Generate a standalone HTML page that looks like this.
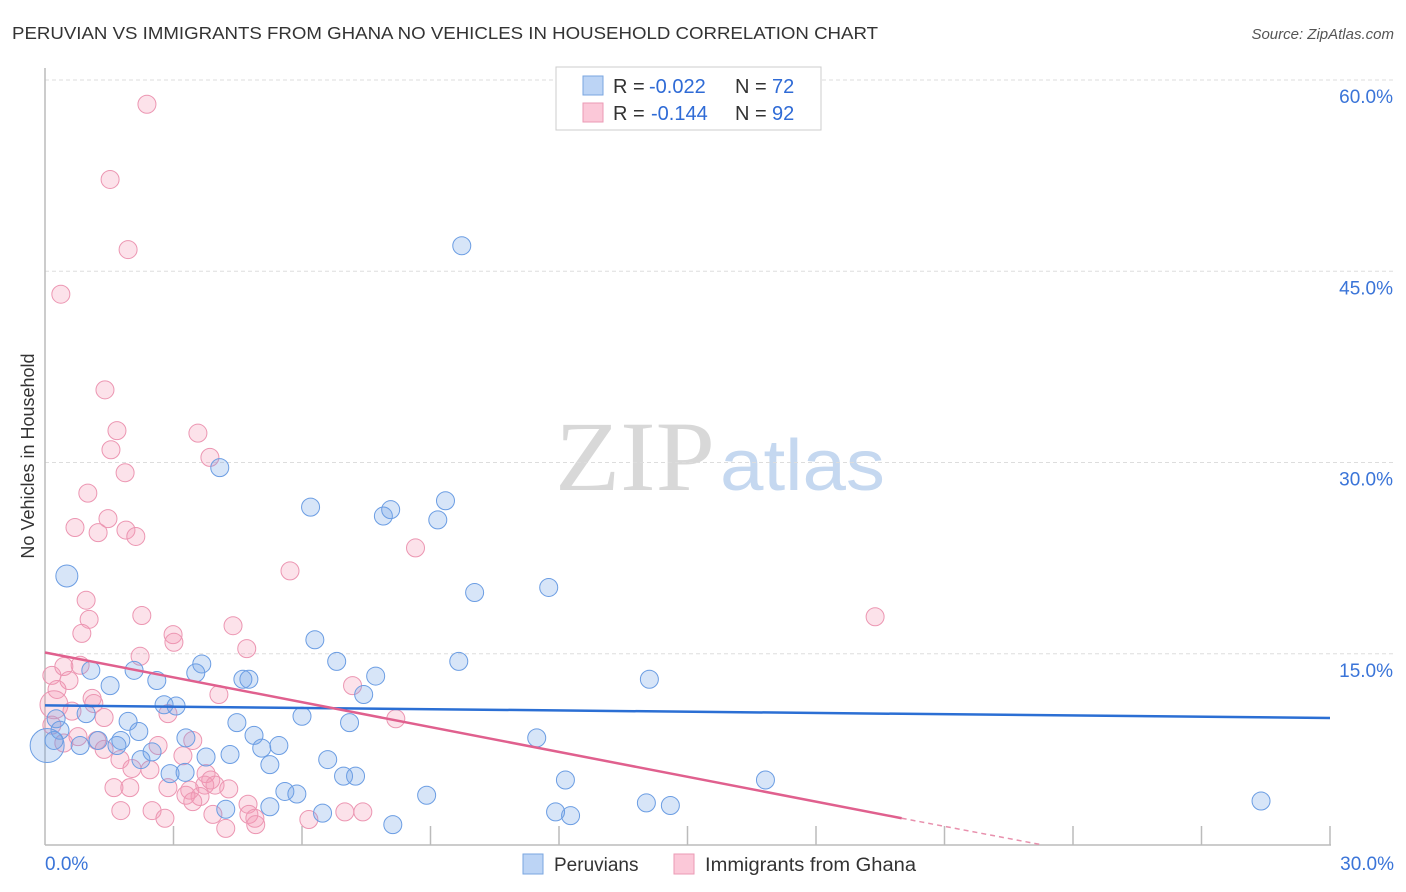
<!DOCTYPE html>
<html><head><meta charset="utf-8"><style>
body{margin:0;background:#fff;font-family:"Liberation Sans",sans-serif;}
svg{display:block}
</style></head><body>
<svg id="chart" width="1406" height="892" xmlns="http://www.w3.org/2000/svg">
<text x="12" y="39" font-size="17.5" fill="#333" textLength="866" lengthAdjust="spacingAndGlyphs">PERUVIAN VS IMMIGRANTS FROM GHANA NO VEHICLES IN HOUSEHOLD CORRELATION CHART</text>
<text x="1394" y="39" font-size="15" fill="#555" font-style="italic" text-anchor="end">Source: ZipAtlas.com</text>
<text x="555" y="490" font-size="100" fill="#d8d8d8" font-family="Liberation Serif,serif" textLength="160" lengthAdjust="spacingAndGlyphs">ZIP</text>
<text x="720" y="490" font-size="72" fill="#c5d8f0" textLength="165" lengthAdjust="spacingAndGlyphs">atlas</text>
<text transform="translate(34,456) rotate(-90)" font-size="18" fill="#333" text-anchor="middle">No Vehicles in Household</text>
<g id="grid"></g><g id="axes"></g><g id="pts"></g><g id="lines"></g>
<g>
<rect x="556" y="67" width="265" height="63" fill="#fff" stroke="#ccc"/>
<rect x="583" y="76" width="20" height="19" fill="#bcd4f5" stroke="#7aa6e0"/>
<rect x="583" y="103" width="20" height="19" fill="#fbc8d8" stroke="#eb9ab5"/>
<text x="613" y="93" font-size="20" fill="#333">R =</text>
<text x="649" y="93" font-size="20" fill="#2f6bd6">-0.022</text>
<text x="735" y="93" font-size="20" fill="#333">N =</text>
<text x="772" y="93" font-size="20" fill="#2f6bd6">72</text>
<text x="613" y="120" font-size="20" fill="#333">R =</text>
<text x="651" y="120" font-size="20" fill="#2f6bd6">-0.144</text>
<text x="735" y="120" font-size="20" fill="#333">N =</text>
<text x="772" y="120" font-size="20" fill="#2f6bd6">92</text>
</g>
<g>
<rect x="523" y="854" width="20" height="20" fill="#bcd4f5" stroke="#7aa6e0"/>
<text x="554" y="871" font-size="19" fill="#333">Peruvians</text>
<rect x="674" y="854" width="20" height="20" fill="#fbc8d8" stroke="#eb9ab5"/>
<text x="705" y="871" font-size="19" fill="#333" textLength="211" lengthAdjust="spacingAndGlyphs">Immigrants from Ghana</text>
</g>
</svg>
<script>
const yTicks=[15,30,45,60];
const yTickLabels=["15.0%","30.0%","45.0%","60.0%"];
const xTickVals=[3,6,9,12,15,18,21,24,27,30];
const blueX=[9.73,4.08,6.2,7.9,8.07,9.17,9.35,10.03,11.76,0.51,6.3,6.81,3.66,9.66,7.72,7.44,3.52,2.61,4.76,4.62,2.08,1.07,1.52,2.78,3.06,14.11,6.0,4.48,7.11,1.94,0.96,0.26,0.35,2.19,3.29,4.88,1.77,1.24,1.68,5.06,5.46,2.5,3.76,4.32,5.25,6.6,11.48,6.97,7.25,12.15,16.82,0.21,0.82,2.92,3.27,2.24,4.22,5.25,5.6,5.88,6.48,8.12,8.91,11.92,12.27,14.04,14.6,28.39,0.05];
const blueY=[47.0,29.6,26.5,25.8,26.3,25.5,27.0,19.8,20.2,21.1,16.1,14.4,14.2,14.4,13.25,11.8,13.5,12.9,13.0,13.0,13.7,13.7,12.5,11.0,10.9,13.0,10.1,9.6,9.6,9.7,10.3,9.9,9.0,8.9,8.4,8.6,8.2,8.2,7.8,7.6,7.8,7.3,6.9,7.1,6.3,6.7,8.4,5.4,5.4,5.1,5.1,8.2,7.8,5.6,5.7,6.7,2.8,3.0,4.2,4.0,2.5,1.6,3.9,2.6,2.3,3.3,3.1,3.45,7.8];
const pinkX=[2.38,1.52,1.94,0.37,1.4,1.68,1.54,3.57,3.85,1.87,1.0,0.7,1.24,1.47,1.89,2.12,8.65,5.72,19.38,0.96,1.03,0.86,2.26,2.99,3.01,4.39,4.71,2.22,0.82,0.16,0.44,0.56,0.28,1.1,1.14,4.06,7.18,8.19,2.87,1.38,0.63,0.16,0.44,0.77,1.21,1.38,3.45,2.64,1.75,2.03,2.45,3.22,3.76,3.87,3.73,3.38,2.87,1.61,1.98,3.62,3.29,3.45,3.97,4.29,4.74,1.77,2.5,2.8,3.92,4.76,4.9,4.92,4.22,7.0,7.42,6.16,0.21];
const pinkY=[58.1,52.2,46.7,43.2,35.7,32.5,31.0,32.3,30.4,29.2,27.6,24.9,24.5,25.6,24.7,24.2,23.3,21.5,17.9,19.2,17.7,16.6,18.0,16.5,15.9,17.2,15.4,14.8,14.1,13.3,14.0,12.9,12.2,11.5,11.1,11.8,12.5,9.9,10.3,10.0,10.5,9.4,8.0,8.5,8.2,7.5,8.2,7.8,6.7,6.0,5.9,7.0,5.6,5.1,4.7,4.3,4.5,4.5,4.5,3.8,3.9,3.4,4.7,4.4,3.2,2.7,2.7,2.1,2.4,2.4,2.1,1.6,1.3,2.6,2.6,2.0,11.0];
const blueTrend=[10.95,9.96];
const pinkTrendStart=15.1;
const pinkTrendEndX=20.0, pinkTrendEndY=2.1, pinkZeroX=23.3;
const NS="http://www.w3.org/2000/svg";
const sx=v=>45+v*(1285/30);
const sy=v=>845-v*(765/60);
function mk(tag,attrs,parent){const e=document.createElementNS(NS,tag);for(const k in attrs)e.setAttribute(k,attrs[k]);document.getElementById(parent).appendChild(e);return e;}
yTicks.forEach((t,i)=>{
 const g=mk('line',{x1:45,x2:1394,y1:sy(t),y2:sy(t),stroke:'#ddd','stroke-dasharray':'4 3'},'grid');
 
 
 const l=mk('text',{x:1393,y:sy(t)+23,'font-size':19,fill:'#3a74d8','text-anchor':'end'},'grid');
 l.textContent=yTickLabels[i];
 
 
});
const ya=mk('line',{x1:45,x2:45,y1:68,y2:845,stroke:'#bbb','stroke-width':1.5},'axes');


const xa=mk('line',{x1:45,x2:1331,y1:845,y2:845,stroke:'#bbb','stroke-width':1.5},'axes');


xTickVals.forEach(t=>{
 const k=mk('line',{x1:sx(t),x2:sx(t),y1:826,y2:845,stroke:'#bbb','stroke-width':1.5},'axes');
 
 
});
const x0=mk('text',{x:45,y:870,'font-size':19,fill:'#3a74d8'},'axes');x0.textContent='0.0%';


const x1=mk('text',{x:1394,y:870,'font-size':19,fill:'#3a74d8','text-anchor':'end'},'axes');x1.textContent='30.0%';


pinkX.forEach((v,i)=>{
 const big=i===pinkX.length-1;
 const c=mk('circle',{cx:sx(v),cy:sy(pinkY[i]),r:big?14:9,fill:'rgba(245,150,180,0.28)',stroke:'#ec96b2','stroke-width':1},'pts');
 
 
});
blueX.forEach((v,i)=>{
 const big=(i===9)||(i===blueX.length-1);
 const c=mk('circle',{cx:sx(v),cy:sy(blueY[i]),r:i===blueX.length-1?17:(big?11:9),fill:'rgba(110,160,230,0.28)',stroke:'#6b9de3','stroke-width':1},'pts');
 
 
});
const bl=mk('line',{x1:sx(0),y1:sy(blueTrend[0]),x2:sx(30),y2:sy(blueTrend[1]),stroke:'#2b6fd4','stroke-width':2.5},'lines');


const pl=mk('line',{x1:sx(0),y1:sy(pinkTrendStart),x2:sx(pinkTrendEndX),y2:sy(pinkTrendEndY),stroke:'#e0608e','stroke-width':2.5},'lines');


const pd=mk('line',{x1:sx(pinkTrendEndX),y1:sy(pinkTrendEndY),x2:sx(pinkZeroX),y2:sy(0),stroke:'#e890ad','stroke-width':1.5,'stroke-dasharray':'5 4'},'lines');


</script>
</body></html>
